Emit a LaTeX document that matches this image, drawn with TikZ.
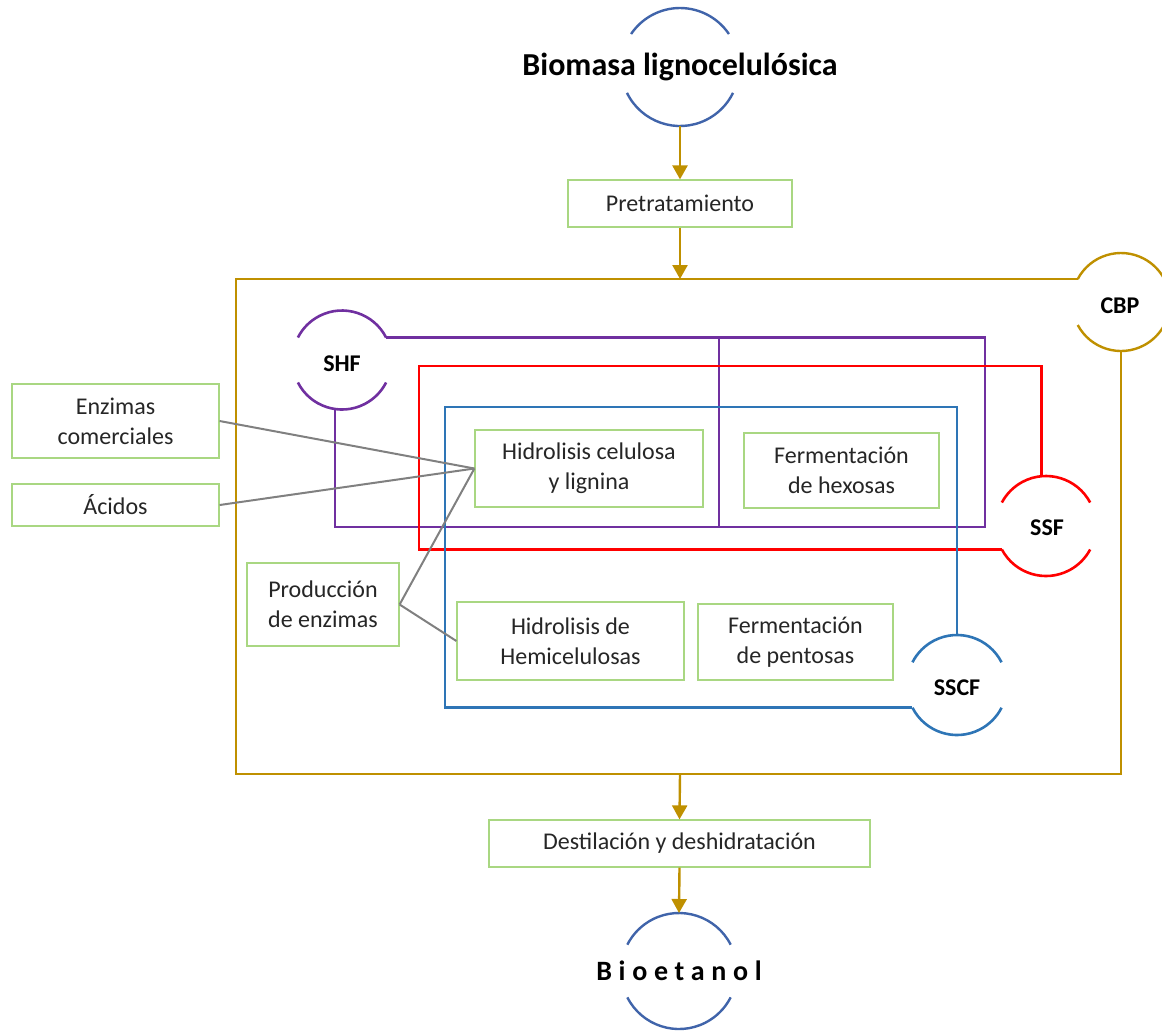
\documentclass[tikz,border=0pt]{standalone}
\usepackage{fontspec}
\setmainfont{Carlito}
\usetikzlibrary{arrows.meta}
\definecolor{goldc}{RGB}{191,144,0}
\definecolor{boxgreen}{RGB}{169,215,130}
\definecolor{ringblue}{RGB}{64,100,170}
\definecolor{sscfblue}{RGB}{46,117,182}
\definecolor{shfpurple}{RGB}{112,48,160}
\definecolor{linkgray}{RGB}{128,128,128}
\definecolor{txtgray}{RGB}{38,38,38}

\begin{document}
\begin{tikzpicture}[x=0.5pt,y=-0.5pt,
  box/.style={draw=boxgreen, line width=0.6pt, fill=white, inner sep=0pt, align=center,
    font=\fontsize{12}{15}\selectfont, text=txtgray},
  ring/.style={circle, minimum size=#1, inner sep=0pt, outer sep=0pt},
  ringlabel/.style={font=\fontsize{12}{15}\selectfont\bfseries},
  flow/.style={goldc, line width=1.2pt, -{Triangle[width=7.5pt,length=7pt]}},
  link/.style={linkgray, line width=1pt}]
\useasboundingbox (0,0) rectangle (1162,1030);

% circles
\node[ring=59pt] (bio) at (680,67) {};
\node[font=\fontsize{16}{18}\selectfont\bfseries] (biotxt) at (bio) {Biomasa lignocelulósica};
\draw[ringblue,line width=1.2pt] (bio.34) arc[start angle=34,end angle=146,radius=29.5pt];
\draw[ringblue,line width=1.2pt] (bio.206) arc[start angle=206,end angle=334,radius=29.5pt];

\node[ring=58pt] (bioet) at (679,971) {};
\node[font=\fontsize{14}{16}\selectfont\bfseries\addfontfeature{LetterSpace=24}] (bioettxt) at (bioet) {Bioetanol};
\draw[ringblue,line width=1.2pt] (bioet.27) arc[start angle=27,end angle=153,radius=29pt];
\draw[ringblue,line width=1.2pt] (bioet.207) arc[start angle=207,end angle=333,radius=29pt];

\node[ring=49pt] (cbp) at (1121,302) {};
\node[ringlabel] (cbptxt) at (1120,306) {CBP};
\draw[goldc,line width=1.2pt] (cbp.152) arc[start angle=152,end angle=28,radius=24.5pt];
\draw[goldc,line width=1.2pt] (cbp.208) arc[start angle=208,end angle=332,radius=24.5pt];

\node[ring=49.5pt] (shf) at (342,360) {};
\node[ringlabel] (shftxt) at (342,364) {SHF};
\draw[shfpurple,line width=1.3pt] (shf.27) arc[start angle=27,end angle=153,radius=24.75pt];
\draw[shfpurple,line width=1.3pt] (shf.207) arc[start angle=207,end angle=333,radius=24.75pt];

\node[ring=50pt] (ssf) at (1046,526) {};
\node[ringlabel] (ssftxt) at (1047,528) {SSF};
\draw[red,line width=1.3pt] (ssf.28) arc[start angle=28,end angle=152,radius=25pt];
\draw[red,line width=1.3pt] (ssf.208) arc[start angle=208,end angle=332,radius=25pt];

\node[ring=50pt] (sscf) at (957,685) {};
\node[ringlabel] (sscftxt) at (957,688) {SSCF};
\draw[sscfblue,line width=1.3pt] (sscf.27) arc[start angle=27,end angle=153,radius=25pt];
\draw[sscfblue,line width=1.3pt] (sscf.207) arc[start angle=207,end angle=333,radius=25pt];

% boxes
\node[box, minimum width=112pt, minimum height=23.5pt] (pre) at (680,203.5) {Pretratamiento};
\node[box, minimum width=103.5pt, minimum height=37pt] (enz) at (115.5,421) {Enzimas\\comerciales};
\node[box, minimum width=103.5pt, minimum height=21pt] (aci) at (115.5,505) {Ácidos};
\node[box, minimum width=76pt, minimum height=41.5pt] (prod) at (323,604.5) {Producción\\de enzimas};
\node[box, minimum width=114pt, minimum height=38.5pt] (hidro) at (589,468.5) {Hidrolisis celulosa\\y lignina};
\node[box, minimum width=97.5pt, minimum height=37.5pt] (hexo) at (841.5,470.5) {Fermentación\\de hexosas};
\node[box, minimum width=113.5pt, minimum height=39pt] (hemi) at (570.5,641) {Hidrolisis de\\Hemicelulosas};
\node[box, minimum width=97.5pt, minimum height=38pt] (pento) at (795.5,642) {Fermentación\\de pentosas};
\node[box, minimum width=190.5pt, minimum height=23.5pt] (dest) at (679.5,843.5) {Destilación y deshidratación};

% frames
\coordinate (cbptop) at (680,279);
\coordinate (cbpbot) at (680,774);
\draw[goldc,line width=1.2pt] (cbp.south) |- (236,774) |- (cbp.152);
\draw[shfpurple,line width=1.3pt] (shf.27) -| (985,527) -| (shf.262);
\draw[shfpurple,line width=1.3pt] (719,337) -- (719,527);
\draw[red,line width=1.3pt] (ssf.208) -| (419,366) -| (ssf.95);
\draw[sscfblue,line width=1.3pt] (sscf.north) |- (445,407) |- (sscf.207);

% links
\draw[link] (enz.east) -- (hidro.west);
\draw[link] (aci.east) -- (hidro.west);
\draw[link] (prod.east) -- (hidro.west);
\draw[link] (prod.east) -- (hemi.west);

% flow
\draw[flow] (bio.south) -- (pre.north);
\draw[flow] (pre.south) -- (cbptop);
\draw[flow] (cbpbot) -- (dest.north);
\draw[flow] (dest.south) -- (bioet.north);
\end{tikzpicture}
\end{document}
